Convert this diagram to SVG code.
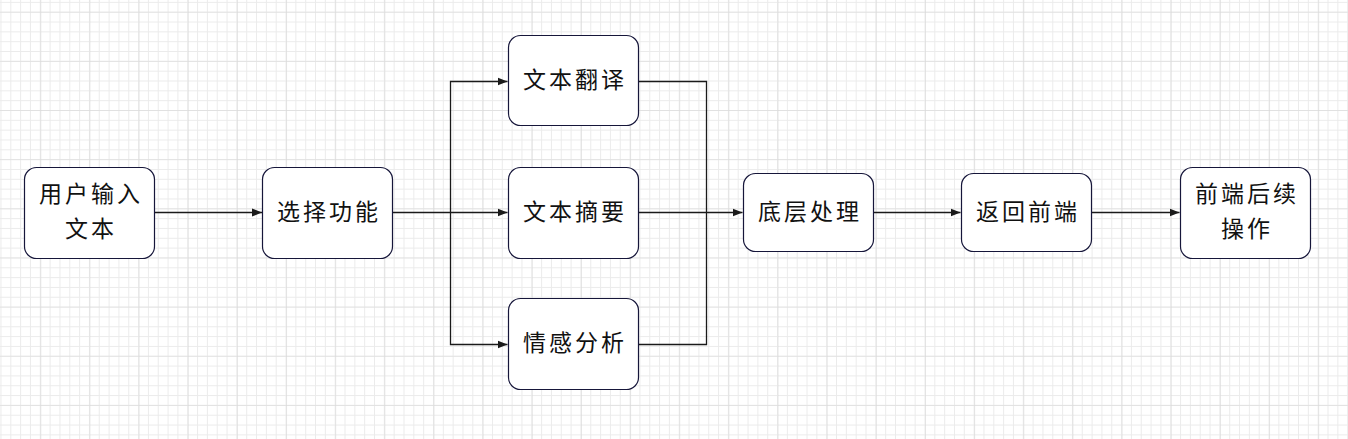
<svg xmlns="http://www.w3.org/2000/svg" width="1348" height="439" viewBox="0 0 1348 439">
  <defs>
    <pattern id="minor" patternUnits="userSpaceOnUse" x="0.47" y="1.87" width="9.83" height="9.83">
      <path d="M0.5 0V9.83M0 0.5H9.83" fill="none" stroke="#ebebeb" stroke-width="1"/>
    </pattern>
    <pattern id="major" patternUnits="userSpaceOnUse" x="40.3" y="11.7" width="49.15" height="49.15">
      <path d="M0 0V49.15M0 0H49.15" fill="none" stroke="#d8d8d8" stroke-width="1.2"/>
    </pattern>
    <marker id="arrow" markerWidth="11" markerHeight="10" refX="10" refY="5" orient="auto" markerUnits="userSpaceOnUse">
      <path d="M0 1L10 5L0 9Z" fill="#1a1a1a"/>
    </marker>
  </defs>
  <style>
    .box { fill: #ffffff; stroke: #16163a; stroke-width: 1.2; }
    .lbl { font-family: "Noto Sans CJK SC", "Noto Sans", sans-serif; font-size: 23px; letter-spacing: 3px; fill: #111111; text-anchor: middle; dominant-baseline: central; }
    .edge { fill: none; stroke: #1a1a1a; stroke-width: 1.3; }
  </style>
  <rect width="1348" height="439" fill="#ffffff"/>
  <rect width="1348" height="439" fill="url(#minor)"/>
  <rect width="1348" height="439" fill="url(#major)"/>

  <g id="connectors">
    <path class="edge" d="M154.5 212.5H262" marker-end="url(#arrow)"/>
    <path class="edge" d="M392.5 212.5H507.5" marker-end="url(#arrow)"/>
    <path class="edge" d="M450.5 212.5V81.5H507.5" marker-end="url(#arrow)"/>
    <path class="edge" d="M450.5 212.5V344.5H507.5" marker-end="url(#arrow)"/>
    <path class="edge" d="M638.5 81.5H706.5V344.5H638.5"/>
    <path class="edge" d="M638.5 212.5H742.5" marker-end="url(#arrow)"/>
    <path class="edge" d="M873.5 212.5H960.5" marker-end="url(#arrow)"/>
    <path class="edge" d="M1091.5 212.5H1179.5" marker-end="url(#arrow)"/>
  </g>

  <g id="node-input">
    <rect class="box" x="24.5" y="167.5" width="130" height="91" rx="12"/>
    <text class="lbl" x="91" y="192">用户输入</text>
    <text class="lbl" x="91" y="227">文本</text>
  </g>
  <g id="node-select">
    <rect class="box" x="262.5" y="167.5" width="130" height="91" rx="12"/>
    <text class="lbl" x="329" y="210">选择功能</text>
  </g>
  <g id="node-translate">
    <rect class="box" x="508.5" y="35.5" width="130" height="90" rx="12"/>
    <text class="lbl" x="575" y="78">文本翻译</text>
  </g>
  <g id="node-summary">
    <rect class="box" x="508.5" y="167.5" width="130" height="91" rx="12"/>
    <text class="lbl" x="575" y="210">文本摘要</text>
  </g>
  <g id="node-sentiment">
    <rect class="box" x="508.5" y="298.5" width="130" height="91" rx="12"/>
    <text class="lbl" x="575" y="341">情感分析</text>
  </g>
  <g id="node-backend">
    <rect class="box" x="743.5" y="173.5" width="130" height="78" rx="12"/>
    <text class="lbl" x="810" y="210">底层处理</text>
  </g>
  <g id="node-return">
    <rect class="box" x="961.5" y="173.5" width="130" height="78" rx="12"/>
    <text class="lbl" x="1028" y="210">返回前端</text>
  </g>
  <g id="node-followup">
    <rect class="box" x="1180.5" y="167.5" width="130" height="91" rx="12"/>
    <text class="lbl" x="1247" y="192">前端后续</text>
    <text class="lbl" x="1247" y="227">操作</text>
  </g>
</svg>
